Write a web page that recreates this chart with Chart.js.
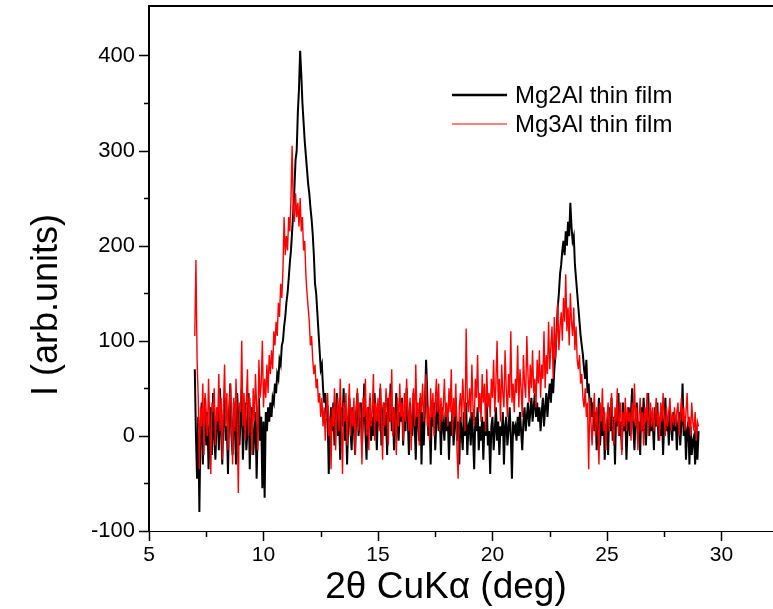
<!DOCTYPE html>
<html>
<head>
<meta charset="utf-8">
<title>XRD Mg2Al / Mg3Al</title>
<script src="https://cdn.jsdelivr.net/npm/chart.js@4.4.0/dist/chart.umd.min.js"></script>
<style>
  body { margin: 0; background: #fff; }
  #wrap { width: 773px; height: 609px; }
</style>
</head>
<body>
<div id="wrap"><canvas id="xrdChart" width="773" height="609"></canvas></div>
<script>
// scan: 7.00 .. 29.00 deg, 0.05 deg per point
var scanStart = 7.0;
var scanStep = 0.05;

// Mg2Al thin film (one row per degree)
var mg2al = [
  70, 0, -45, 20, -80, 10, 35, -30, 15, 40, -10, 25, -35, 5, 30, -20, 45, 0, -25, 15,
  30, -15, 50, 5, -30, 20, 40, -5, 10, -40, 25, 55, 0, -20, 35, 10, -30, 45, 15, -10,
  20, 50, -25, 10, 35, -15, 5, 45, -35, 15, 30, -20, 0, 25, -45, 10, 40, -5, 20, -55,
  15, -65, 25, 5, 30, 15, 35, 20, 40, 35, 55, 45, 65, 60, 80, 75, 95, 100, 115, 125,
  140, 150, 165, 182, 195, 215, 235, 260, 290, 300, 340, 365, 405, 380, 350, 330, 310, 295, 280, 265,
  255, 240, 228, 212, 190, 160, 150, 130, 110, 90, 70, 75, 50, 35, 45, 20, 25, -40, 10, 30,
  5, 35, -10, 20, 45, 0, 15, -25, 30, 10, 50, -5, 25, -30, 15, 40, 5, -15, 30, 10,
  -20, 25, 45, 0, 15, 35, -10, 20, 55, 5, -25, 30, 10, 40, -5, 20, 0, 45, 15, -15,
  30, 10, 50, -10, 20, 35, 0, 25, -20, 40, 15, 55, 5, 30, -15, 20, 45, 10, -5, 25,
  15, 40, -10, 25, 5, 50, 20, -20, 35, 10, 0, 45, 15, -25, 30, 20, -5, 40, -30, 25,
  -10, 30, 80, 45, 0, 20, -30, 25, 10, 35, -15, 15, 40, 5, 20, -20, 30, 10, -5, 25,
  5, 20, -25, 15, 0, 30, -10, 10, 40, -5, 15, -30, 20, 5, -15, 25, 0, 35, -20, 10,
  15, -10, 25, 0, -35, 20, 5, 30, -15, 10, -5, 20, -25, 15, 0, 35, -10, 5, -40, 10,
  20, -15, 5, 30, -5, 15, -20, 10, 0, 25, -30, 10, 20, -10, 5, 30, 0, -45, 15, 5,
  10, -5, 20, 0, 25, 5, -15, 15, 30, 5, 20, 35, 10, 25, 40, 15, 30, 45, 20, 35,
  15, 30, 5, 25, 40, 10, 30, 45, 20, 40, 55, 35, 60, 45, 70, 85, 110, 135, 150, 170,
  180, 195, 205, 190, 215, 200, 225, 210, 245, 220, 205, 210, 180, 165, 150, 135, 120, 105, 95, 85,
  70, 60, 80, 45, 55, 30, 40, 20, 35, 5, 25, -15, 15, 40, -10, 20, 0, 30, -25, 10,
  15, -20, 30, 5, 40, -5, 20, -30, 25, 10, 45, 0, 15, -15, 35, 5, 20, -25, 10, 30,
  0, 25, 50, 10, -15, 20, 35, -5, 15, -20, 30, 5, 40, 10, -10, 20, 45, 0, 25, 5,
  15, -15, 30, 10, 35, -5, 20, 0, 25, -20, 15, 40, 5, 20, -10, 30, 10, -5, 25, 5,
  20, -15, 10, 25, -10, 15, 55, 0, 20, -25, 5, 15, -30, 10, -20, -5, 0, -30, 10, -25,
  5
];

// Mg3Al thin film
var mg3al = [
  105, 185, 80, 40, -35, 30, 10, 55, -20, 45, 20, 0, 60, 15, -40, 35, 25, 50, -10, 30,
  15, 65, 5, 40, -25, 30, 75, 10, 45, -15, 25, 55, 20, -30, 40, 5, 60, 15, -60, 35,
  25, 100, 10, 45, -5, 35, 70, 0, 40, 20, -20, 50, 15, 65, 30, -15, 80, 40, 55, 100,
  30, 60, 40, 75, 45, 85, 65, 90, 70, 110, 95, 120, 105, 140, 125, 160, 145, 175, 230, 190,
  210, 195, 230, 215, 250, 305, 240, 225, 255, 230, 245, 220, 250, 215, 230, 195, 205, 170, 150, 135,
  120, 95, 105, 80, 65, 75, 50, 60, 35, 45, 20, 40, 10, 30, -5, 25, 45, 0, 20, -35,
  30, 10, 50, -15, 25, 40, 5, 60, 20, -40, 35, 15, 45, -10, 25, 55, 0, 30, 10, 40,
  -20, 25, 50, 5, 35, 15, -30, 40, 20, 60, 0, 30, -15, 45, 10, 25, 65, -5, 35, 15,
  40, 5, 55, 20, -25, 35, 10, 50, 25, -10, 45, 15, 70, 0, 30, 20, -20, 40, 10, 55,
  20, 35, -5, 45, 15, 60, 25, 5, 40, -15, 30, 50, 10, 75, 20, 35, -10, 45, 25, 55,
  15, 40, 65, 10, 30, -5, 50, 20, 45, 0, 35, 60, 25, 55, 5, 40, 15, 30, 60, 20,
  35, 10, 50, 25, 70, 0, 40, 20, 55, -15, -45, 30, 45, 15, 60, 35, 5, 113, 40, 25,
  50, 20, 75, 30, 10, 60, 40, 85, 25, 45, 15, 65, 35, 55, 5, 70, 30, 45, 20, 60,
  40, 80, 25, 55, 100, 35, 60, 15, 75, 45, 30, 90, 50, 20, 65, 40, 110, 35, 55, 25,
  60, 45, 95, 30, 70, 50, 20, 85, 55, 40, 105, 65, 35, 75, 50, 90, 45, 60, 30, 80,
  55, 90, 40, 75, 60, 110, 50, 85, 65, 120, 70, 95, 115, 60, 125, 80, 105, 140, 90, 115,
  130, 100, 145, 120, 170, 110, 135, 95, 150, 120, 105, 135, 90, 115, 80, 70, 85, 55, 65, 40,
  30, 50, 20, 35, -35, 40, 15, -10, 25, 45, 0, 30, 10, -30, 35, 15, 50, 5, 25, -15,
  20, 35, 5, 25, 45, 10, -10, 30, 15, 50, 0, 20, 35, -20, 25, 10, 40, 5, 30, 15,
  25, -5, 35, 15, 55, 10, 30, -15, 20, 40, 5, 25, -10, 30, 15, 45, 0, 20, 35, 10,
  30, 5, 20, 40, 10, 25, -5, 35, 15, 45, 20, 0, 30, 10, 25, 40, 5, 20, 15, 30,
  10, 25, 35, 0, 20, 40, 15, 30, 5, 25, 45, 10, 20, 0, 35, 15, 5, 25, -5, 15,
  10
];

// axis ticks
var xMajor = [5, 10, 15, 20, 25, 30];
var xMinor = [7.5, 12.5, 17.5, 22.5, 27.5];
var yMajor = [-100, 0, 100, 200, 300, 400];
var yMinor = [-50, 50, 150, 250, 350];

var xTitle = '2\u03b8 CuK\u03b1 (deg)';
var yTitle = 'I (arb.units)';

function toPoints(values) {
  return values.map(function (v, i) {
    return { x: +(scanStart + i * scanStep).toFixed(2), y: v };
  });
}

// ticks, frame, legend and axis titles
var framePlugin = {
  id: 'framePlugin',
  afterDraw: function (chart) {
    var ctx = chart.ctx;
    var area = chart.chartArea;
    var xs = chart.scales.x;
    var ys = chart.scales.y;
    ctx.save();
    ctx.strokeStyle = '#000';

    ctx.lineWidth = 2;
    ctx.beginPath();
    ctx.moveTo(area.left - 1, area.top);
    ctx.lineTo(area.right, area.top);
    ctx.stroke();

    ctx.lineWidth = 1.5;
    ctx.beginPath();
    yMajor.forEach(function (v) {
      var py = Math.round(ys.getPixelForValue(v)) + 0.5;
      ctx.moveTo(area.left, py);
      ctx.lineTo(area.left - 10, py);
    });
    yMinor.forEach(function (v) {
      var py = Math.round(ys.getPixelForValue(v)) + 0.5;
      ctx.moveTo(area.left, py);
      ctx.lineTo(area.left - 5, py);
    });
    xMajor.forEach(function (v) {
      var px = Math.round(xs.getPixelForValue(v)) + 0.5;
      ctx.moveTo(px, area.bottom);
      ctx.lineTo(px, area.bottom + 10);
    });
    xMinor.forEach(function (v) {
      var px = Math.round(xs.getPixelForValue(v)) + 0.5;
      ctx.moveTo(px, area.bottom);
      ctx.lineTo(px, area.bottom + 6);
    });
    ctx.stroke();

    // legend
    ctx.font = '24px "Liberation Sans", Arial, sans-serif';
    ctx.textBaseline = 'middle';
    ctx.textAlign = 'left';
    chart.data.datasets.forEach(function (ds, i) {
      var ly = 95 + i * 29;
      ctx.strokeStyle = ds.borderColor;
      ctx.lineWidth = i === 0 ? 2.5 : 1.2;
      ctx.beginPath();
      ctx.moveTo(452, ly);
      ctx.lineTo(507, ly);
      ctx.stroke();
      ctx.fillStyle = '#000';
      ctx.fillText(ds.label, 515, ly + 1);
    });

    // axis titles
    ctx.fillStyle = '#000';
    ctx.textAlign = 'center';
    ctx.textBaseline = 'alphabetic';
    ctx.font = '37px "Liberation Sans", Arial, sans-serif';
    ctx.fillText(xTitle, 446, 598);

    ctx.translate(57, 305);
    ctx.rotate(-Math.PI / 2);
    ctx.font = '36px "Liberation Sans", Arial, sans-serif';
    ctx.fillText(yTitle, 0, 0);
    ctx.restore();
  }
};

window.onload = function () {
  var ctx = document.getElementById('xrdChart').getContext('2d');
  var xrdChart = new Chart(ctx, {
    type: 'line',
    data: {
      datasets: [{
        label: 'Mg2Al thin film',
        data: toPoints(mg2al),
        borderColor: '#000000',
        borderWidth: 2,
        pointRadius: 0,
        tension: 0,
        fill: false,
        order: 2
      }, {
        label: 'Mg3Al thin film',
        data: toPoints(mg3al),
        borderColor: '#ff0000',
        borderWidth: 1.4,
        pointRadius: 0,
        tension: 0,
        fill: false,
        order: 1
      }]
    },
    options: {
      responsive: false,
      animation: false,
      layout: { padding: { top: 6, right: 0, bottom: 0, left: 0 } },
      plugins: {
        legend: { display: false },
        tooltip: { enabled: false }
      },
      scales: {
        x: {
          type: 'linear',
          min: 5,
          max: 32.25,
          afterBuildTicks: function (scale) {
            scale.ticks = xMajor.map(function (v) { return { value: v }; });
          },
          afterFit: function (scale) {
            scale.height = 78;
            scale.paddingLeft = 0;
            scale.paddingRight = 0;
          },
          grid: { drawOnChartArea: false, drawTicks: false },
          border: { display: true, color: '#000', width: 1 },
          ticks: {
            padding: 12,
            color: '#000',
            font: { family: '"Liberation Sans", Arial, sans-serif', size: 21 },
            maxRotation: 0
          }
        },
        y: {
          type: 'linear',
          min: -100,
          max: 452,
          afterBuildTicks: function (scale) {
            scale.ticks = yMajor.map(function (v) { return { value: v }; });
          },
          afterFit: function (scale) {
            scale.width = 149;
            scale.paddingTop = 0;
            scale.paddingBottom = 0;
          },
          grid: { drawOnChartArea: false, drawTicks: false },
          border: { display: true, color: '#000', width: 2 },
          ticks: {
            padding: 14,
            color: '#000',
            font: { family: '"Liberation Sans", Arial, sans-serif', size: 22 }
          }
        }
      }
    },
    plugins: [framePlugin]
  });
};
</script>
</body>
</html>
